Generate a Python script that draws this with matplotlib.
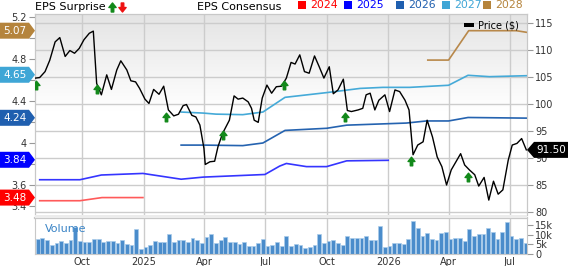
import matplotlib
matplotlib.use("Agg")
import matplotlib.pyplot as plt
import matplotlib.dates as mdates
from matplotlib.path import Path
from matplotlib.patches import Polygon, Rectangle
import numpy as np
import pandas as pd

plt.rcParams["font.family"] = ["DejaVu Sans"]

# --- data ---
price_dates = [
    "2024-07-24", "2024-07-30", "2024-08-07", "2024-08-14", "2024-08-22", "2024-08-29", "2024-09-06",
    "2024-09-13", "2024-09-20", "2024-09-27", "2024-10-04", "2024-10-12", "2024-10-18", "2024-10-23",
    "2024-10-30", "2024-11-07", "2024-11-14", "2024-11-22", "2024-11-28", "2024-12-07", "2024-12-13",
    "2024-12-20", "2024-12-26", "2025-01-03", "2025-01-09", "2025-01-16", "2025-01-24", "2025-01-31",
    "2025-02-07", "2025-02-15", "2025-02-22", "2025-03-01", "2025-03-06", "2025-03-14", "2025-03-20",
    "2025-03-26", "2025-04-01", "2025-04-03", "2025-04-10", "2025-04-17", "2025-04-22", "2025-04-29",
    "2025-05-09", "2025-05-16", "2025-05-22", "2025-05-29", "2025-06-06", "2025-06-11", "2025-06-15",
    "2025-06-21", "2025-06-27", "2025-07-04", "2025-07-11", "2025-07-18", "2025-07-26", "2025-08-02",
    "2025-08-09", "2025-08-15", "2025-08-22", "2025-08-29", "2025-09-05", "2025-09-13", "2025-09-20",
    "2025-09-27", "2025-10-05", "2025-10-11", "2025-10-18", "2025-10-26", "2025-11-01", "2025-11-07",
    "2025-11-17", "2025-11-24", "2025-11-29", "2025-12-05", "2025-12-12", "2025-12-18", "2025-12-27",
    "2026-01-03", "2026-01-11", "2026-01-18", "2026-01-26", "2026-02-01", "2026-02-07", "2026-02-14",
    "2026-02-22", "2026-02-28", "2026-03-08", "2026-03-15", "2026-03-22", "2026-03-29", "2026-04-05",
    "2026-04-12", "2026-04-19", "2026-04-25", "2026-05-02", "2026-05-10", "2026-05-16", "2026-05-24",
    "2026-05-31", "2026-06-07", "2026-06-14", "2026-06-21", "2026-06-29", "2026-07-05", "2026-07-12",
    "2026-07-19", "2026-07-26",
]
price = [
    104.8, 104.9, 106.0, 108.1, 111.5, 112.3, 108.8, 109.9, 109.4, 110.3,
    111.9, 113.1, 113.5, 103.8, 101.7, 105.4, 102.7, 106.3, 108.0,
    106.3, 104.3, 104.1, 102.9, 100.9, 100.1, 102.7, 101.8, 103.3,
    98.9, 97.8, 98.1, 99.7, 99.9, 97.9, 97.6, 96.1,
    91.8, 88.8, 89.3, 89.4, 92.1, 94.6, 97.0, 101.5, 100.9, 101.1,
    100.4, 99.2, 97.0, 96.6, 101.1, 103.5, 102.0, 103.2, 103.3,
    104.8, 107.7, 107.4, 109.1, 106.0, 105.7, 108.9, 106.9, 104.8,
    106.9, 101.9, 102.6, 104.6, 98.8, 98.6, 98.9, 99.2, 101.7,
    102.0, 98.9, 100.7, 101.7, 98.6, 102.6, 102.3, 100.7,
    98.9, 90.6, 92.4, 93.0, 97.0, 93.9, 90.2, 88.4, 85.0,
    87.8, 89.3, 90.8, 88.7, 87.8, 86.9, 84.8, 86.4, 82.2,
    85.7, 83.3, 84.1, 89.6, 92.4, 92.7, 93.6, 91.5,
]

volume_start = "2024-07-27"   # weekly bars
volume_k = [
    8.0, 8.3, 7.3, 4.8, 5.5, 6.7, 5.9, 7.3, 14.0, 6.6,
    6.4, 6.2, 8.0, 7.8, 6.2, 6.7, 6.9, 5.7, 7.1, 5.3,
    4.8, 12.8, 2.5, 3.4, 4.8, 6.7, 6.2, 6.2, 10.6, 6.2,
    7.4, 7.4, 6.4, 8.3, 7.3, 5.7, 8.9, 10.6, 5.7, 7.3,
    8.9, 6.4, 6.2, 5.1, 6.4, 4.4, 4.4, 5.9, 8.0, 4.3,
    4.6, 6.2, 4.4, 9.2, 4.4, 5.3, 4.8, 3.2, 3.7, 4.8,
    10.2, 5.6, 6.7, 7.4, 5.5, 4.9, 9.3, 8.1, 8.1, 8.1,
    9.5, 7.1, 7.1, 14.6, 3.9, 4.2, 5.5, 6.0, 5.3, 7.6,
    17.3, 13.8, 9.2, 10.9, 7.8, 7.1, 10.8, 11.3, 7.6, 8.1,
    8.5, 6.7, 13.2, 9.5, 10.6, 10.6, 13.6, 11.3, 7.9, 11.3,
    16.9, 9.2, 7.8, 8.5, 5.6,
]

eps24_dates = ["2024-07-30", "2024-09-28", "2024-10-31", "2024-12-31"]
eps24 = [3.45, 3.45, 3.48, 3.48]
eps25_dates = ["2024-07-30", "2024-09-28", "2024-10-30", "2024-12-31", "2025-02-26", "2025-03-31",
               "2025-07-01", "2025-07-23", "2025-08-02", "2025-09-01", "2025-10-01", "2025-10-31",
               "2026-01-01"]
eps25 = [3.65, 3.65, 3.695, 3.71, 3.655, 3.675, 3.70, 3.78, 3.805, 3.775, 3.775, 3.83, 3.835]
eps26_dates = ["2025-02-26", "2025-03-31", "2025-05-29", "2025-06-28", "2025-07-31", "2025-10-01",
               "2025-10-31", "2026-01-28", "2026-02-27", "2026-04-01", "2026-04-30", "2026-07-26"]
eps26 = [3.98, 3.98, 3.975, 4.0, 4.12, 4.14, 4.17, 4.19, 4.21, 4.21, 4.243, 4.237]
eps27_dates = ["2025-02-26", "2025-03-31", "2025-04-19", "2025-05-29", "2025-06-28", "2025-07-31",
               "2025-10-01", "2025-11-20", "2025-12-24", "2026-02-02", "2026-04-01", "2026-04-30",
               "2026-06-01", "2026-07-26"]
eps27 = [4.295, 4.285, 4.275, 4.27, 4.295, 4.435, 4.48, 4.52, 4.53, 4.53, 4.55, 4.645, 4.632, 4.641]
eps28_dates = ["2026-03-01", "2026-04-01", "2026-05-01", "2026-07-11", "2026-07-26"]
eps28 = [4.79, 4.79, 5.07, 5.07, 5.055]

surprise_dates = ["2024-07-24", "2024-10-23", "2025-02-03", "2025-04-29",
                  "2025-07-29", "2025-10-28", "2026-02-04", "2026-04-30"]
surprise_level = [103.5, 102.8, 97.65, 94.3, 103.6, 97.6, 89.5, 86.5]

years = ["2024", "2025", "2026", "2027", "2028"]
year_colors = ["#ff0000", "#0000ff", "#1f5faf", "#3fa6d6", "#b5843c"]
line_colors = ["#ff5a5a", "#3535ff", "#2563b0", "#45aad8", "#b8884a"]
eps_badges = [3.48, 3.84, 4.24, 4.65, 5.07]
last_price = 91.50

x_ticks = ["2024-10-01", "2025-01-01", "2025-04-01", "2025-07-01",
           "2025-10-01", "2026-01-01", "2026-04-01", "2026-07-01"]
x_labels = ["Oct", "2025", "Apr", "Jul", "Oct", "2026", "Apr", "Jul"]
price_ticks = [80, 85, 90, 95, 100, 105, 110, 115]
eps_ticks = [3.4, 3.6, 3.8, 4.0, 4.2, 4.4, 4.6, 4.8, 5.0, 5.2]
eps_labels = ["3.4", "3.6", "", "4", "", "4.4", "", "4.8", "", "5.2"]  # others sit under badges
vol_ticks = [0, 5, 10, 15]
vol_labels = ["0", "5k", "10k", "15k"]

# --- layout (pixels) ---
W, H = 568, 266
GRID = "#cccccc"
TXT = "#333333"


def frac(left, top, right, bottom):
    return [left / W, 1 - bottom / H, (right - left) / W, (bottom - top) / H]


fig = plt.figure(figsize=(W / 100, H / 100), dpi=100)
ax_p = fig.add_axes(frac(35, 14, 527, 215))
ax_e = ax_p.twinx()
ax_v = fig.add_axes(frac(35, 218, 527, 254), sharex=ax_p)

xmin, xmax = pd.Timestamp("2024-07-23"), pd.Timestamp("2026-07-27")

# gradient background of price panel
rows = np.linspace(0, 1, 256)
shade = 0.895 + 0.105 * np.clip(rows / 0.48, 0, 1)
grad = np.repeat(shade[:, None, None], 3, axis=2)
ax_p.imshow(grad, extent=[0, 1, 0, 1], transform=ax_p.transAxes, aspect="auto",
            origin="upper", zorder=0, interpolation="bilinear")
ax_p.set_axisbelow(True)

ax_p.grid(True, color=GRID, lw=1)
ax_v.grid(True, axis="x", color=GRID, lw=1)
ax_v.set_axisbelow(True)

# consensus lines
for dts, vals, c in zip([eps24_dates, eps25_dates, eps26_dates, eps27_dates, eps28_dates],
                        [eps24, eps25, eps26, eps27, eps28], line_colors):
    ax_e.plot(pd.to_datetime(dts), vals, color=c, lw=1.2, zorder=2)

# price line and surprise arrows drawn on top, in price units
ax_e.plot(pd.to_datetime(price_dates), price, color="black", lw=1.0, zorder=3,
          transform=ax_p.transData)

up = Path([(0, 0.5), (0.4, 0.0), (0.14, 0.0), (0.14, -0.5), (-0.14, -0.5),
           (-0.14, 0.0), (-0.4, 0.0), (0, 0.5)], closed=True)
down = Path([(x, -y) for x, y in up.vertices], closed=True)
ax_e.plot(pd.to_datetime(surprise_dates), surprise_level, ls="none", marker=up,
          markersize=6.2, color="#12891a", zorder=4, transform=ax_p.transData)

# volume
vol_dates = pd.date_range(volume_start, periods=len(volume_k), freq="7D")
ax_v.bar(vol_dates, volume_k, width=5.6, color="#4a8ccb", edgecolor="#a9cbea",
         linewidth=0.5, zorder=2)
ax_v.text(0.021, 0.7, "Volume", transform=ax_v.transAxes, color="#3a84c6",
          fontsize=8, va="center", ha="left")

# axes limits & ticks
ax_p.set_xlim(xmin, xmax)
ax_p.set_ylim(79.44, 116.67)
ax_e.set_ylim(3.314, 5.229)
ax_v.set_ylim(0, 18.8)

ax_p.set_yticks(price_ticks)
ax_p.set_yticklabels([str(t) for t in price_ticks])
ax_p.yaxis.tick_right()
ax_p.tick_params(axis="y", right=True, left=False, labelright=True, labelleft=False,
                 length=4, width=0.8, color="#999999", pad=2, labelsize=7, labelcolor=TXT)
ax_p.tick_params(axis="x", bottom=False, labelbottom=False)

ax_e.set_yticks(eps_ticks)
ax_e.set_yticklabels(eps_labels)
ax_e.yaxis.tick_left()
ax_e.tick_params(axis="y", left=True, right=False, labelleft=True, labelright=False,
                 length=4, width=0.8, color="#999999", pad=2, labelsize=7, labelcolor=TXT)

ax_v.set_xticks(pd.to_datetime(x_ticks))
ax_v.set_xticklabels(x_labels)
ax_v.tick_params(axis="x", length=0, pad=2.5, labelsize=7, labelcolor=TXT)
ax_v.set_yticks(vol_ticks)
ax_v.set_yticklabels(vol_labels)
ax_v.yaxis.tick_right()
ax_v.tick_params(axis="y", right=True, left=False, length=4, width=0.8,
                 color="#999999", pad=2, labelsize=7, labelcolor=TXT)

for ax in (ax_p, ax_e):
    for side, sp in ax.spines.items():
        sp.set_color("#c8c8c8")
        sp.set_visible(side != "bottom")
for side, sp in ax_v.spines.items():
    sp.set_color("#c8c8c8")
ax_v.spines["top"].set_linewidth(1.6)

# separator band between panels
fig.patches.append(Rectangle((35 / W, 1 - 218 / H), 492 / W, 3 / H, transform=fig.transFigure,
                             facecolor="#ececec", edgecolor="none", zorder=1))

# overlay in pixel coordinates for badges and the header legend
ov = fig.add_axes([0, 0, 1, 1])
ov.set_xlim(0, W)
ov.set_ylim(H, 0)
ov.axis("off")
ov.set_zorder(10)

x0 = mdates.date2num(xmin)
for val, c in zip(eps_badges, year_colors):
    yc = H - ax_e.transData.transform((x0, val))[1]
    ov.add_patch(Polygon([(0, yc - 8), (29, yc - 8), (35, yc), (29, yc + 8), (0, yc + 8)],
                         closed=True, facecolor=c, edgecolor="none"))
    ov.text(15, yc, f"{val:.2f}", color="white", fontsize=7.5, ha="center", va="center")

yp = H - ax_p.transData.transform((x0, last_price))[1]
ov.add_patch(Polygon([(527, yp), (534, yp - 8), (568, yp - 8), (568, yp + 8), (534, yp + 8)],
                     closed=True, facecolor="black", edgecolor="none"))
ov.text(551, yp, f"{last_price:.2f}", color="white", fontsize=7.5, ha="center", va="center")

# header
ov.text(35, 6.5, "EPS Surprise", fontsize=8, ha="left", va="center", color="black")
ov.plot([111.5], [7], marker=up, markersize=6.5, color="#12891a", ls="none")
ov.plot([122], [7], marker=down, markersize=6.5, color="#ee1111", ls="none")
ov.text(197, 6.5, "EPS Consensus", fontsize=8, ha="left", va="center", color="black")
sq_x = [298, 344, 396, 442, 483]
for sx, yr, c in zip(sq_x, years, year_colors):
    ov.add_patch(Rectangle((sx, 1), 7.5, 7.5, facecolor=c, edgecolor="none"))
    ov.text(sx + 12, 5, yr, fontsize=7.8, color=c, ha="left", va="center")

ov.add_patch(Rectangle((464, 22.5), 10, 4.5, facecolor="black", edgecolor="none"))
ov.text(478.5, 25, "Price ($)", fontsize=7, ha="left", va="center", color="black")

fig.savefig("out.png", dpi=100)
